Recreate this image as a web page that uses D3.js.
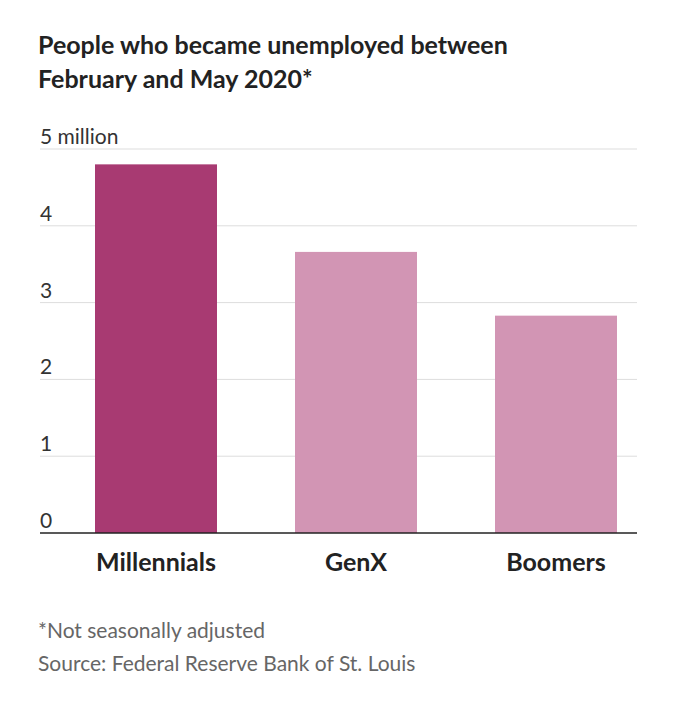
<!DOCTYPE html>
<html><head><meta charset="utf-8">
<script src="https://cdn.jsdelivr.net/npm/d3@7"></script>
<style>body{margin:0;background:#fff;font-family:Lato,"Noto Sans",sans-serif;}</style>
</head><body>
<svg id="c" width="678" height="714"></svg>
<script>
const categories = ["Millennials","GenX","Boomers"];
const values = [4.80, 3.66, 2.83];
const tickValues = [0,1,2,3,4,5];
const tickLabels = ["0","1","2","3","4","5 million"];
const colors = ["#a83a72","#d295b4","#d295b4"];

(function(){
const svg = d3.select("#c");
const pL = 40, pR = 637, pT = 149, pB = 533;
const x = d3.scaleBand().domain(categories).range([pL+15, pR+20]).paddingInner(0.39).paddingOuter(0.2);
const y = d3.scaleLinear().domain([0,5]).range([pB, pT]);

svg.append("text").attr("x",38).attr("y",54).attr("font-size",25).attr("font-weight",700).attr("fill","#222").text("People who became unemployed between");
svg.append("text").attr("x",38).attr("y",88).attr("font-size",25).attr("font-weight",700).attr("fill","#222").text("February and May 2020*");

tickValues.forEach((t,i)=>{
  if(t>0) svg.append("line").attr("x1",pL).attr("x2",pR).attr("y1",y(t)).attr("y2",y(t)).attr("stroke","#ddd").attr("stroke-width",1);
  svg.append("text").attr("x",pL).attr("y",y(t)-5).attr("font-size",21).attr("fill","#333").text(tickLabels[i]);
});

svg.selectAll("rect.bar").data(values).enter().append("rect")
  .attr("x",(d,i)=>x(categories[i])).attr("width",x.bandwidth())
  .attr("y",d=>y(d)).attr("height",d=>pB-y(d)).attr("fill",(d,i)=>colors[i]);

svg.append("line").attr("x1",pL).attr("x2",pR).attr("y1",pB).attr("y2",pB).attr("stroke","#222").attr("stroke-width",1.5);

categories.forEach(c=>{
  svg.append("text").attr("x",x(c)+x.bandwidth()/2).attr("y",571).attr("text-anchor","middle").attr("font-size",25).attr("font-weight",700).attr("fill","#222").text(c);
});

svg.append("text").attr("x",38).attr("y",638).attr("font-size",21).attr("fill","#666").text("*Not seasonally adjusted");
svg.append("text").attr("x",38).attr("y",671).attr("font-size",21).attr("fill","#666").text("Source: Federal Reserve Bank of St. Louis");
})();
</script>
</body></html>
